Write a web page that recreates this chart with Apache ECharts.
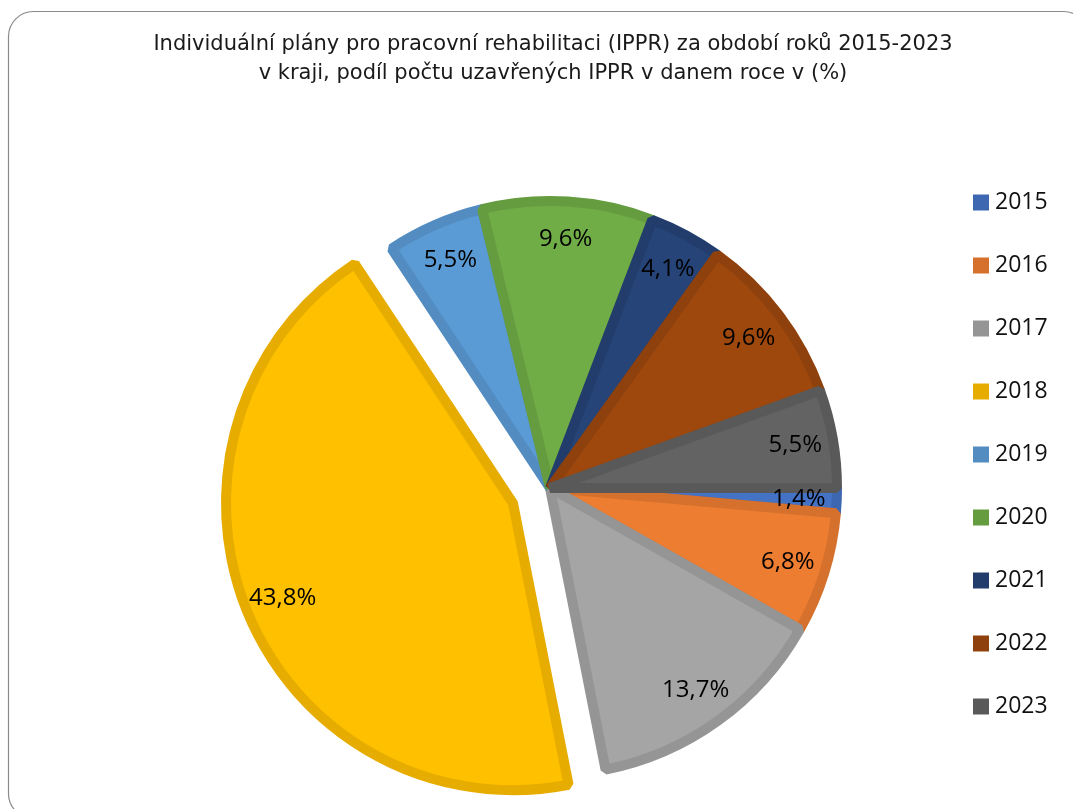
<!DOCTYPE html>
<html>
<head>
<meta charset="utf-8">
<script src="https://cdn.jsdelivr.net/npm/echarts@6/dist/echarts.min.js"></script>
<style>html,body{margin:0;padding:0;background:#fff;}#c{width:1073px;height:809px;}</style>
</head>
<body>
<div id="c"></div>
<script>
const years = ['2015','2016','2017','2018','2019','2020','2021','2022','2023'];
const shares = [1.4, 6.8, 13.7, 43.8, 5.5, 9.6, 4.1, 9.6, 5.5];
const labelTexts = ['1,4%','6,8%','13,7%','43,8%','5,5%','9,6%','4,1%','9,6%','5,5%'];
const fillColors = ['#4472C4','#ED7D31','#A5A5A5','#FFC000','#5B9BD5','#70AD47','#264478','#9E480E','#636363'];
const edgeColors = ['#3D67B0','#D5712C','#959595','#E6AD00','#528CC0','#659C40','#223D6C','#8E410D','#595959'];
const explodedYear = '2018';

const chart = echarts.init(document.getElementById('c'), null, {renderer: 'canvas'});

const pieData = years.map((y, i) => ({
  name: y,
  value: shares[i],
  selected: y === explodedYear,
  itemStyle: {color: fillColors[i], borderColor: edgeColors[i], borderWidth: 10, borderJoin: 'bevel'},
  select: {itemStyle: {color: fillColors[i], borderColor: edgeColors[i], borderWidth: 10, borderJoin: 'bevel'}}
}));
const labelData = years.map((y, i) => ({
  name: y,
  value: shares[i],
  selected: y === explodedYear,
  label: {formatter: labelTexts[i]}
}));

chart.setOption({
  animation: false,
  backgroundColor: '#ffffff',
  title: {
    text: 'Individuální plány pro pracovní rehabilitaci (IPPR) za období roků 2015-2023\nv kraji, podíl počtu uzavřených IPPR v danem roce v (%)',
    left: 548, top: 25, textAlign: 'center',
    textStyle: {fontFamily: 'DejaVu Sans', fontSize: 21, fontWeight: 'normal', color: '#1a1a1a', lineHeight: 29}
  },
  legend: {
    orient: 'vertical',
    left: 973, top: 191, padding: 0,
    itemWidth: 16, itemHeight: 16, itemGap: 40,
    icon: 'rect',
    selectedMode: false,
    data: years.map((y, i) => ({name: y, itemStyle: {color: edgeColors[i], borderWidth: 0}})),
    textStyle: {fontFamily: 'Open Sans', fontSize: 23, color: '#111', padding: [0,0,0,1]}
  },
  graphic: [{
    type: 'rect', left: 6, top: 9, silent: true, z: -1,
    shape: {x: 0, y: 0, width: 1080, height: 807, r: 25},
    style: {fill: 'none', stroke: '#8a8a8a', lineWidth: 1.2}
  }],
  series: [{
    type: 'pie',
    center: [550, 488],
    radius: [0, 287],
    startAngle: 0,
    clockwise: true,
    selectedMode: 'single',
    selectedOffset: 40,
    avoidLabelOverlap: false,
    label: {show: false},
    labelLine: {show: false},
    emphasis: {disabled: true},
    data: pieData
  }, {
    type: 'pie',
    center: [550, 488],
    radius: [205, 287],
    startAngle: 0,
    clockwise: true,
    selectedMode: 'single',
    selectedOffset: 40,
    avoidLabelOverlap: false,
    silent: true,
    itemStyle: {color: 'rgba(0,0,0,0)', borderWidth: 0},
    select: {itemStyle: {color: 'rgba(0,0,0,0)', borderWidth: 0}},
    emphasis: {disabled: true},
    labelLine: {show: false},
    label: {show: true, position: 'inside', fontFamily: 'Open Sans', fontSize: 24, color: '#000'},
    data: labelData
  }]
});
</script>
</body>
</html>
